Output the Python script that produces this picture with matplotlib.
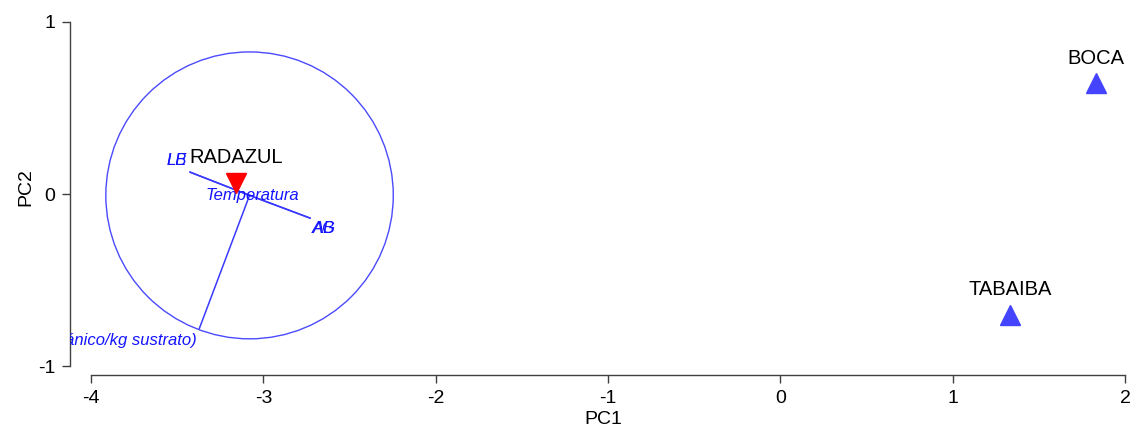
import matplotlib
matplotlib.use("Agg")
import matplotlib.pyplot as plt
from matplotlib.patches import Circle

plt.rcParams['font.family'] = ['Liberation Sans', 'DejaVu Sans']

# Sample scores
sites = ["RADAZUL", "BOCA", "TABAIBA"]
pc1 = [-3.158, 1.833, 1.331]
pc2 = [0.064, 0.645, -0.702]
site_markers = ["v", "^", "^"]
site_colors = ["#ff0000", "#4444ff", "#4444ff"]

# Vector overlay (relative to circle centre)
circle_center = (-3.080, -0.008)
circle_radius = 0.834
vec_names = ["LB", "LE", "AB", "AG", "Temperatura", "C orgánico (g C orgánico/kg sustrato)"]
vec_dx = [-0.345, -0.345, 0.351, 0.351, 0.005, -0.291]
vec_dy = [0.135, 0.135, -0.132, -0.132, 0.0, -0.773]
# label offsets in pixels (dx, dy) from vector end, and alignment
vec_lab_off = [(-13, 12), (-13, 12), (14, -10), (14, -10), (2, 0), (-3, -12)]
vec_lab_ha = ["center", "center", "center", "center", "center", "right"]

xticks = [-4, -3, -2, -1, 0, 1, 2]
yticks = [-1, 0, 1]

fig = plt.figure(figsize=(11.37, 4.32), dpi=100)
ax = fig.add_axes([70/1137, (432-375)/432, (1137-70)/1137, 375/432])
ax.set_xlim(-4.1219, 2.0697)
ax.set_ylim(-1.0523, 1.1279)

px = 0.72  # points per pixel

# circle and vectors
blue_line = "#4a4aff"
ax.add_patch(Circle(circle_center, circle_radius, fill=False, edgecolor=blue_line, lw=1.0, zorder=2))
cx, cy = circle_center
for name, dx, dy, off, ha in zip(vec_names, vec_dx, vec_dy, vec_lab_off, vec_lab_ha):
    ax.plot([cx, cx + dx], [cy, cy + dy], color="#3a3aff", lw=1.1, zorder=3)
    ax.annotate(name, (cx + dx, cy + dy), xytext=(off[0]*px, off[1]*px),
                textcoords="offset points", ha=ha, va="center",
                fontsize=12, style="italic", color="#1414ff",
                annotation_clip=False, clip_on=True, zorder=4)

# sites
for name, x, y, m, c in zip(sites, pc1, pc2, site_markers, site_colors):
    ax.plot([x], [y], marker=m, color=c, markersize=14, linestyle="none", zorder=5)
    ax.annotate(name, (x, y), xytext=(0, 25*px), textcoords="offset points",
                ha="center", va="center", fontsize=14.5, color="black", zorder=6)

# axes styling
for s in ["top", "right"]:
    ax.spines[s].set_visible(False)
ax.spines["left"].set_bounds(-1, 1)
ax.spines["bottom"].set_bounds(-4, 2)
for s in ["left", "bottom"]:
    ax.spines[s].set_color("#404040")
    ax.spines[s].set_linewidth(1.0)
ax.set_xticks(xticks)
ax.set_yticks(yticks)
ax.set_xticklabels([str(t) for t in xticks])
ax.set_yticklabels([str(t) for t in yticks])
ax.tick_params(axis="both", direction="out", length=6, width=1.0, color="#404040",
               labelsize=14, pad=4.5)
ax.set_xlabel("PC1", fontsize=14, labelpad=3)
ax.set_ylabel("PC2", fontsize=14, labelpad=3)
ax.patch.set_visible(False)

fig.savefig("out.png", dpi=100)
